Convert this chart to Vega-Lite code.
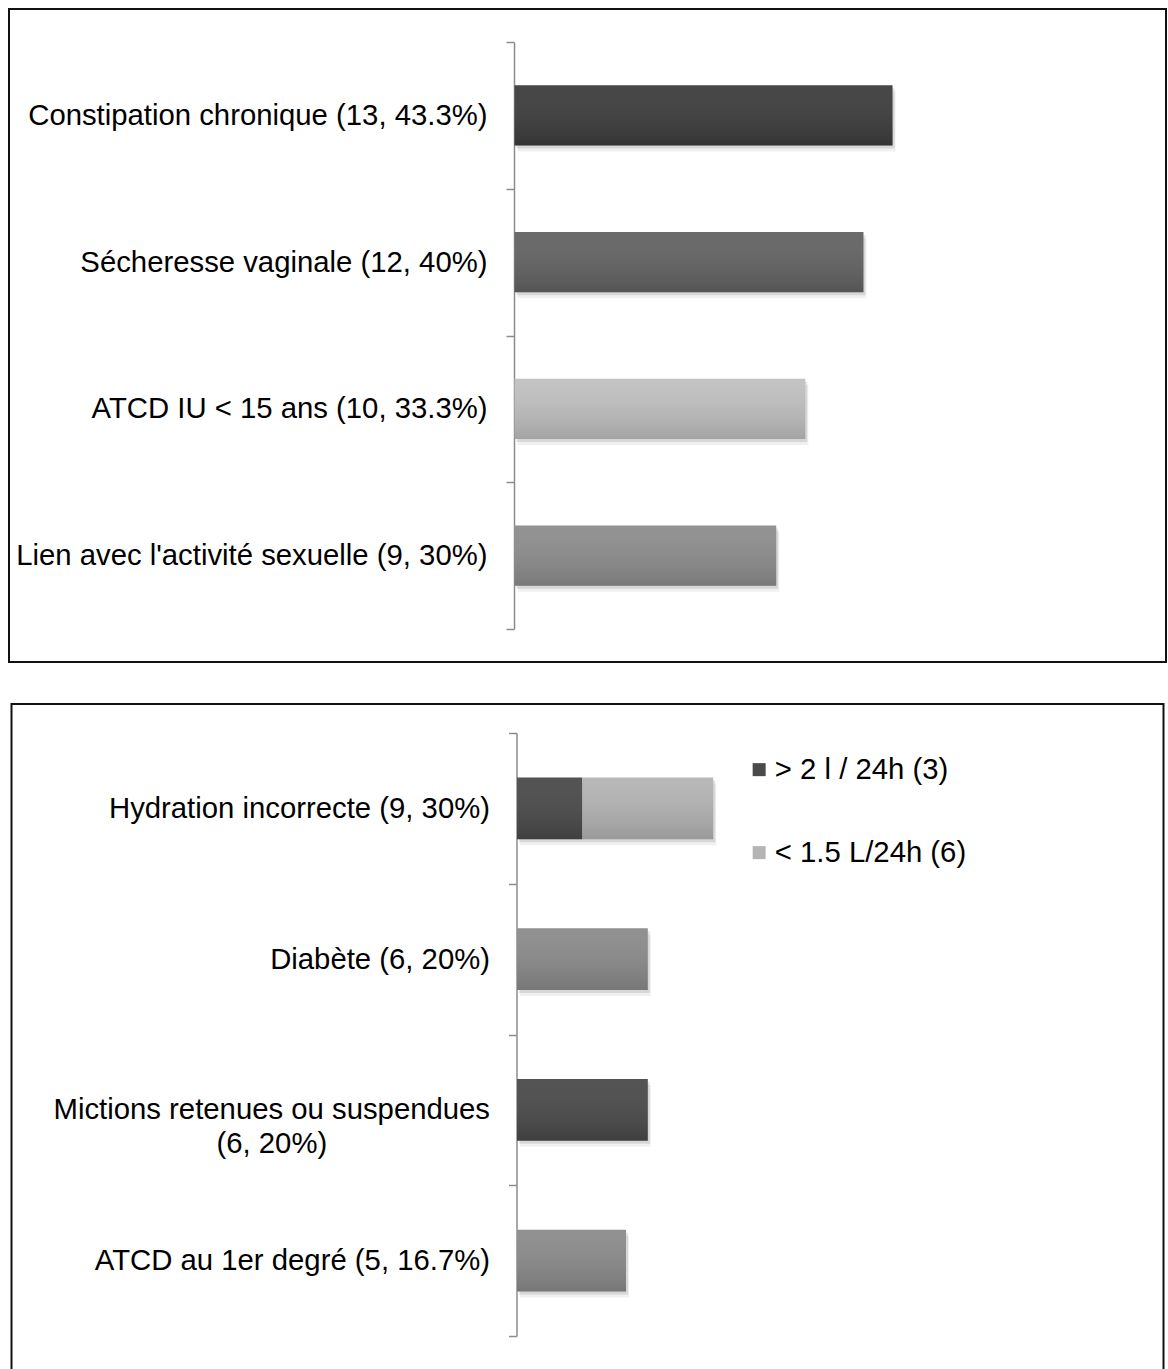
{
  "$schema": "https://vega.github.io/schema/vega-lite/v6.json",
  "background": "white",
  "padding": {"left": 8, "top": -6, "right": 0, "bottom": 0},
  "center": true,
  "spacing": 26,
  "resolve": {"scale": {"color": "independent"}, "legend": {"color": "independent"}},
  "config": {
    "font": "Liberation Sans",
    "view": {"stroke": "#111111", "strokeWidth": 2},
    "axis": {
      "offset": -505,
      "domainColor": "#8c8c8c",
      "domainWidth": 1.5,
      "tickColor": "#8c8c8c",
      "tickWidth": 1.5,
      "tickSize": 8,
      "tickBand": "extent",
      "labelFont": "Liberation Sans",
      "labelFontSize": 29.3,
      "labelColor": "#000000",
      "labelPadding": 19,
      "labelLimit": 700,
      "labelLineHeight": 34
    }
  },
  "vconcat": [
    {
      "width": 1157,
      "height": 653,
      "data": {
        "values": [
          {"facteur": "Constipation chronique (13, 43.3%)", "effectif": 13},
          {"facteur": "Sécheresse vaginale (12, 40%)", "effectif": 12},
          {"facteur": "ATCD IU < 15 ans (10, 33.3%)", "effectif": 10},
          {"facteur": "Lien avec l'activité sexuelle (9, 30%)", "effectif": 9}
        ]
      },
      "encoding": {
        "y": {
          "field": "facteur",
          "type": "nominal",
          "sort": null,
          "scale": {"range": [33, 620], "paddingInner": 0, "paddingOuter": 0},
          "axis": {"title": null}
        },
        "x": {
          "field": "effectif",
          "type": "quantitative",
          "scale": {"domain": [0, 20], "range": [505.5, 1087.1]},
          "axis": null
        }
      },
      "layer": [
        {"mark": {"type": "bar", "height": {"band": 0.41}, "color": "#000000", "opacity": 0.06, "xOffset": 3, "yOffset": 6}},
        {"mark": {"type": "bar", "height": {"band": 0.41}, "color": "#000000", "opacity": 0.1, "xOffset": 2, "yOffset": 3}},
        {
          "mark": {"type": "bar", "height": {"band": 0.41}},
          "encoding": {
            "color": {
              "field": "facteur",
              "type": "nominal",
              "scale": {
                "domain": ["Constipation chronique (13, 43.3%)", "Sécheresse vaginale (12, 40%)", "ATCD IU < 15 ans (10, 33.3%)", "Lien avec l'activité sexuelle (9, 30%)"],
                "range": ["#3d3d3d", "#636363", "#c0c0c0", "#8d8d8d"]
              },
              "legend": null
            }
          }
        },
        {
          "mark": {
            "type": "bar",
            "height": {"band": 0.41},
            "color": {
              "gradient": "linear", "x1": 0, "y1": 0, "x2": 0, "y2": 1,
              "stops": [
                {"offset": 0, "color": "rgba(255,255,255,0.05)"},
                {"offset": 1, "color": "rgba(0,0,0,0.15)"}
              ]
            }
          }
        }
      ]
    },
    {
      "width": 1152,
      "height": 666,
      "data": {
        "values": [
          {"facteur": "Hydration incorrecte (9, 30%)", "segment": "> 2 l / 24h (3)", "effectif": 3},
          {"facteur": "Hydration incorrecte (9, 30%)", "segment": "< 1.5 L/24h (6)", "effectif": 6},
          {"facteur": "Diabète (6, 20%)", "segment": "Diabète", "effectif": 6},
          {"facteur": "Mictions retenues ou suspendues (6, 20%)", "segment": "Mictions retenues ou suspendues", "effectif": 6},
          {"facteur": "ATCD au 1er degré (5, 16.7%)", "segment": "ATCD au 1er degré", "effectif": 5}
        ]
      },
      "encoding": {
        "y": {
          "field": "facteur",
          "type": "nominal",
          "sort": null,
          "scale": {"range": [29, 632], "paddingInner": 0, "paddingOuter": 0},
          "axis": {
            "title": null,
            "labelExpr": "datum.value == 'Mictions retenues ou suspendues (6, 20%)' ? ['Mictions retenues ou suspendues', '(6, 20%)\u00a0\u00a0\u00a0\u00a0\u00a0\u00a0\u00a0\u00a0\u00a0\u00a0\u00a0\u00a0\u00a0\u00a0\u00a0\u00a0\u00a0\u00a0\u00a0\u00a0\u200b'] : datum.value"
          }
        },
        "x": {
          "field": "effectif",
          "type": "quantitative",
          "stack": "zero",
          "scale": {"domain": [0, 20], "range": [505.5, 941.5]},
          "axis": null
        },
        "order": {"field": "segment", "sort": "descending"}
      },
      "layer": [
        {"mark": {"type": "bar", "height": {"band": 0.41}, "color": "#000000", "opacity": 0.06, "xOffset": 3, "yOffset": 6}},
        {"mark": {"type": "bar", "height": {"band": 0.41}, "color": "#000000", "opacity": 0.1, "xOffset": 2, "yOffset": 3}},
        {
          "mark": {"type": "bar", "height": {"band": 0.41}},
          "encoding": {
            "color": {
              "field": "segment",
              "type": "nominal",
              "scale": {
                "domain": ["> 2 l / 24h (3)", "< 1.5 L/24h (6)", "Diabète", "Mictions retenues ou suspendues", "ATCD au 1er degré"],
                "range": ["#4a4a4a", "#b4b4b4", "#8b8b8b", "#4a4a4a", "#8b8b8b"]
              },
              "legend": {
                "values": ["> 2 l / 24h (3)", "< 1.5 L/24h (6)"],
                "title": null,
                "orient": "none",
                "legendX": 733,
                "legendY": 51,
                "padding": 0,
                "symbolType": "square",
                "symbolSize": 169,
                "symbolStrokeWidth": 0,
                "symbolOpacity": 1,
                "labelFont": "Liberation Sans",
                "labelFontSize": 29.3,
                "labelColor": "#000000",
                "labelOffset": 1,
                "rowPadding": 53,
                "labelLimit": 400
              }
            }
          }
        },
        {
          "mark": {
            "type": "bar",
            "height": {"band": 0.41},
            "color": {
              "gradient": "linear", "x1": 0, "y1": 0, "x2": 0, "y2": 1,
              "stops": [
                {"offset": 0, "color": "rgba(255,255,255,0.05)"},
                {"offset": 1, "color": "rgba(0,0,0,0.15)"}
              ]
            }
          }
        }
      ]
    }
  ]
}
